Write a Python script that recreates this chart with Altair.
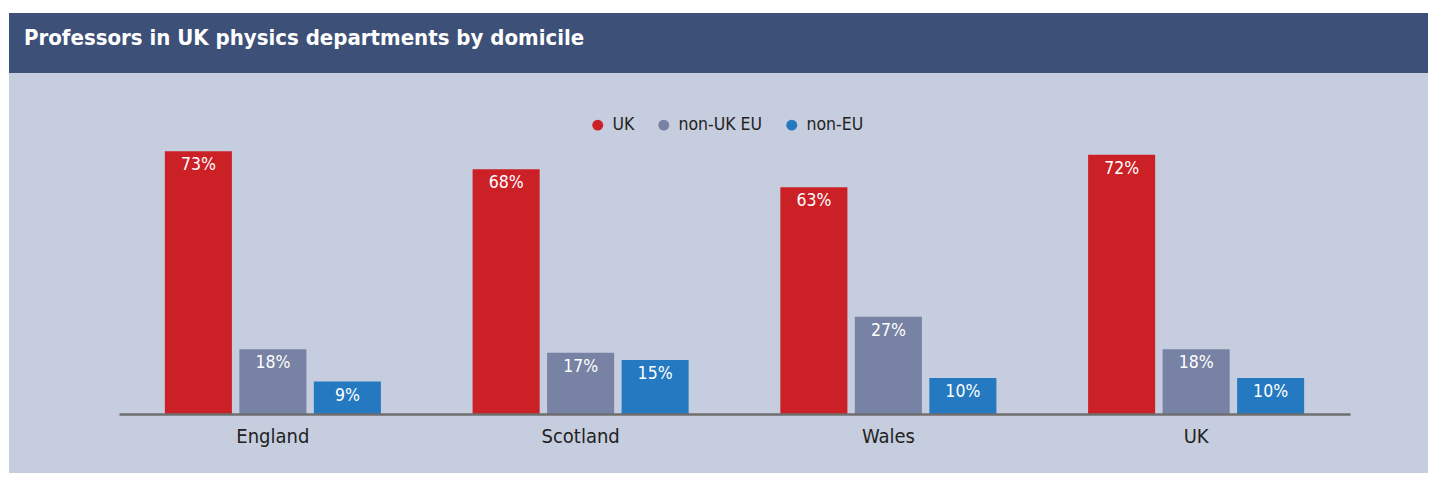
import altair as alt
import pandas as pd

# ---- data ----
regions = ["England", "Scotland", "Wales", "UK"]
series = ["UK", "non-UK EU", "non-EU"]
uk_vals = [73, 68, 63, 72]
non_uk_eu_vals = [18, 17, 27, 18]
non_eu_vals = [9, 15, 10, 10]
colors = ["#cc2027", "#7882a4", "#2479c0"]
title_text = "Professors in UK physics departments by domicile"

rows = []
for i, r in enumerate(regions):
    for s, vals in zip(series, [uk_vals, non_uk_eu_vals, non_eu_vals]):
        rows.append({"region": r, "series": s, "value": vals[i], "label": f"{vals[i]}%"})
df = pd.DataFrame(rows)

FONT = "'Liberation Sans Narrow', 'DejaVu Sans Condensed', Roboto, sans-serif"
W, H = 1231, 288
PAD_L, PAD_T, PAD_R, PAD_B = 111, 118, 78, 59

x = alt.X(
    "region:N",
    sort=regions,
    scale=alt.Scale(paddingInner=0.298, paddingOuter=0.149),
    axis=alt.Axis(
        title=None, labelAngle=0, ticks=False, domainColor="#6e6e6e",
        domainWidth=2.5, labelFontSize=20, labelColor="#222222",
        labelPadding=12, labelFont=FONT, zindex=1,
    ),
)
xo = alt.XOffset("series:N", sort=series, scale=alt.Scale(paddingInner=0.1, paddingOuter=0))
y = alt.Y("value:Q", scale=alt.Scale(domain=[0, 80]), axis=None)

one = pd.DataFrame({"t": [title_text]})

panel = alt.Chart(one).mark_rect(color="#c6cddf").encode(
    x=alt.value(-110), x2=alt.value(W + PAD_R), y=alt.value(-113), y2=alt.value(H + PAD_B)
)
band = alt.Chart(one).mark_rect(color="#3d5077").encode(
    x=alt.value(-110), x2=alt.value(W + PAD_R), y=alt.value(-113), y2=alt.value(-53)
)
title = alt.Chart(one).mark_text(
    align="left", baseline="alphabetic", font=FONT, fontSize=22,
    fontWeight="bold", color="white",
).encode(x=alt.value(-95), y=alt.value(-81), text="t:N")

bars = alt.Chart(df).mark_bar().encode(
    x=x, xOffset=xo, y=y,
    color=alt.Color(
        "series:N", sort=series,
        scale=alt.Scale(domain=series, range=colors),
        legend=alt.Legend(
            title=None, orient="none", legendX=470, legendY=-10,
            direction="horizontal", symbolType="circle", symbolSize=120,
            symbolStrokeWidth=0, labelFont=FONT, labelFontSize=17.5,
            labelColor="#222222", columnPadding=20, labelOffset=6, padding=0,
        ),
    ),
)
labels = alt.Chart(df).mark_text(
    baseline="top", dy=5, color="white", font=FONT, fontSize=17.5
).encode(x=x, xOffset=xo, y=y, text="label:N")

chart = alt.layer(panel, band, title, bars, labels).properties(
    width=W, height=H,
    autosize=alt.AutoSizeParams(type="none"),
    padding={"left": PAD_L, "top": PAD_T, "right": PAD_R, "bottom": PAD_B},
    background="white",
).configure_view(stroke=None)

chart.save("out.html", embed_options={"renderer": "svg", "actions": False})
